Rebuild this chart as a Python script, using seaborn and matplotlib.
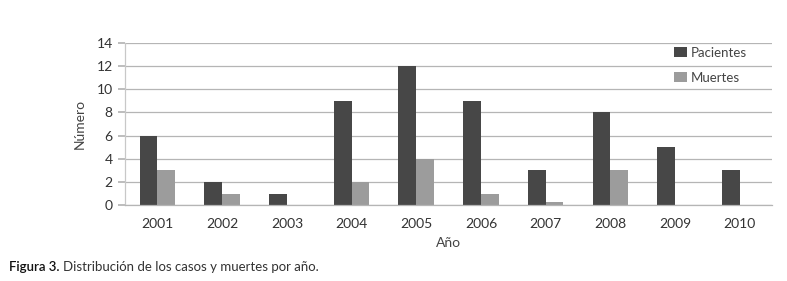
import matplotlib
matplotlib.use("Agg")
import matplotlib.pyplot as plt
import seaborn as sns
import pandas as pd
import numpy as np

years = ["2001", "2002", "2003", "2004", "2005", "2006", "2007", "2008", "2009", "2010"]
pacientes = [6, 2, 1, 9, 12, 9, 3, 8, 5, 3]
muertes = [3, 1, 0, 2, 4, 1, 0.3, 3, 0, 0]
series_names = ["Pacientes", "Muertes"]
yticks = [0, 2, 4, 6, 8, 10, 12, 14]

df = pd.DataFrame({
    "Año": years * 2,
    "Número": pacientes + muertes,
    "Serie": [series_names[0]] * len(years) + [series_names[1]] * len(years),
})

sns.set_theme(style="white")
plt.rcParams["font.family"] = ["Lato", "DejaVu Sans"]

fig = plt.figure(figsize=(7.87, 2.81), dpi=100)
ax = fig.add_axes([0.159, 0.270, 0.822, 0.577])

sns.barplot(data=df, x="Año", y="Número", hue="Serie", ax=ax,
            palette=["#474747", "#9c9c9c"], width=0.55, saturation=1,
            edgecolor="none")

ax.set_ylim(0, 14)
ax.set_xlim(-0.5, len(years) - 0.5)
ax.set_yticks(yticks)
ax.yaxis.grid(True, color="#b5b5b5", linewidth=0.9)
ax.set_axisbelow(True)
for s in ["top", "right"]:
    ax.spines[s].set_visible(False)
ax.spines["left"].set_color("#c8c8c8")
ax.spines["bottom"].set_color("#b5b5b5")
ax.spines["left"].set_linewidth(0.9)
ax.spines["bottom"].set_linewidth(0.9)

ax.tick_params(axis="y", left=True, length=5, color="#b5b5b5", labelsize=10,
               labelcolor="#333333", pad=4)
ax.tick_params(axis="x", which="major", length=0, labelsize=10,
               labelcolor="#333333", pad=9)
ax.set_xticks(np.arange(-0.5, len(years), 1.0), minor=True)
ax.tick_params(axis="x", which="minor", length=8, color="#c8c8c8", width=0.9)

ax.set_xlabel("Año", fontsize=10, color="#444444", labelpad=5)
ax.set_ylabel("Número", fontsize=10, color="#444444", labelpad=8)

leg = ax.legend(loc="upper right", bbox_to_anchor=(0.98, 1.05), frameon=False,
                fontsize=9.5, handlelength=1.0, handleheight=0.8,
                labelspacing=1.0, handletextpad=0.3)
for t in leg.get_texts():
    t.set_color("#444444")

t1 = fig.text(0.012, 0.035, "Figura 3.", fontsize=9.5, color="#111111",
              fontweight="semibold")
fig.canvas.draw()
bb = t1.get_window_extent(renderer=fig.canvas.get_renderer())
x2 = (bb.x1 + 3) / fig.bbox.width
fig.text(x2, 0.035, "Distribución de los casos y muertes por año.", fontsize=9.5,
         color="#333333")

fig.savefig("out.png", dpi=100)
